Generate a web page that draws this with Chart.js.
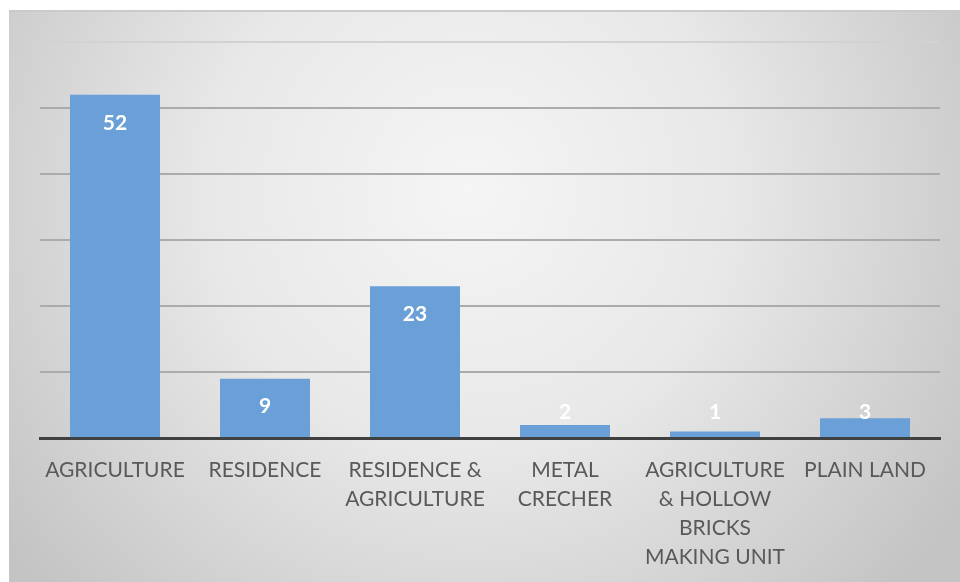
<!DOCTYPE html>
<html>
<head>
<meta charset="utf-8">
<script src="https://cdn.jsdelivr.net/npm/chart.js@4.4.1/dist/chart.umd.min.js"></script>
<style>
  html, body { margin: 0; padding: 0; background: #fff; }
  #wrap { width: 960px; height: 582px; position: relative; }
</style>
</head>
<body>
<div id="wrap"><canvas id="landUse"></canvas></div>
<script>
const categories = [
  'AGRICULTURE',
  'RESIDENCE',
  ['RESIDENCE &', 'AGRICULTURE'],
  ['METAL', 'CRECHER'],
  ['AGRICULTURE', '& HOLLOW', 'BRICKS', 'MAKING UNIT'],
  'PLAIN LAND'
];
const counts = [52, 9, 23, 2, 1, 3];
const yTicks = { min: 0, max: 60, step: 10 };

// panel background: grey radial shading like the office chart style
const panelBg = {
  id: 'panelBg',
  beforeDraw(chart) {
    const { ctx, width, height } = chart;
    ctx.save();
    ctx.fillStyle = '#ffffff';
    ctx.fillRect(0, 0, width, height);
    const g = ctx.createRadialGradient(470, 190, 0, 470, 190, 580);
    g.addColorStop(0, '#f5f5f5');
    g.addColorStop(0.45, '#e8e8e8');
    g.addColorStop(1, '#c4c4c4');
    ctx.fillStyle = g;
    ctx.fillRect(9, 10, width - 9, height - 10);
    ctx.fillStyle = '#cacaca';
    ctx.fillRect(9, 10, width - 9, 2);
    ctx.restore();
  }
};

// white value labels at the inside end of each bar
const valueLabels = {
  id: 'valueLabels',
  afterDatasetsDraw(chart) {
    const { ctx } = chart;
    const meta = chart.getDatasetMeta(0);
    ctx.save();
    ctx.fillStyle = '#ffffff';
    ctx.font = 'bold 21px Lato, "Open Sans", sans-serif';
    ctx.textAlign = 'center';
    ctx.textBaseline = 'middle';
    meta.data.forEach((bar, i) => {
      const y = Math.min(bar.y + 28, bar.base - 25);
      ctx.fillText(String(counts[i]), bar.x, y);
    });
    ctx.restore();
  }
};

new Chart(document.getElementById('landUse'), {
  type: 'bar',
  data: {
    labels: categories,
    datasets: [{
      data: counts,
      backgroundColor: '#6aa0d7',
      borderWidth: 0,
      categoryPercentage: 0.6,
      barPercentage: 1
    }]
  },
  options: {
    responsive: true,
    maintainAspectRatio: false,
    animation: false,
    layout: { padding: { left: 40, right: 20, top: 42, bottom: 0 } },
    plugins: {
      legend: { display: false },
      tooltip: { enabled: false }
    },
    scales: {
      x: {
        grid: { display: false },
        border: { display: true, color: '#404040', width: 3 },
        ticks: {
          color: '#595959',
          font: { family: 'Lato, "Open Sans", sans-serif', size: 21, lineHeight: 1.38 },
          padding: 10,
          maxRotation: 0,
          autoSkip: false
        }
      },
      y: {
        min: yTicks.min,
        max: yTicks.max,
        ticks: { display: false, stepSize: yTicks.step },
        border: { display: false },
        grid: {
          color: ctx => ctx.tick && ctx.tick.value === yTicks.max ? '#d2d2d2' : '#ababab',
          lineWidth: 2,
          drawTicks: false
        }
      }
    }
  },
  plugins: [panelBg, valueLabels]
});
</script>
</body>
</html>
